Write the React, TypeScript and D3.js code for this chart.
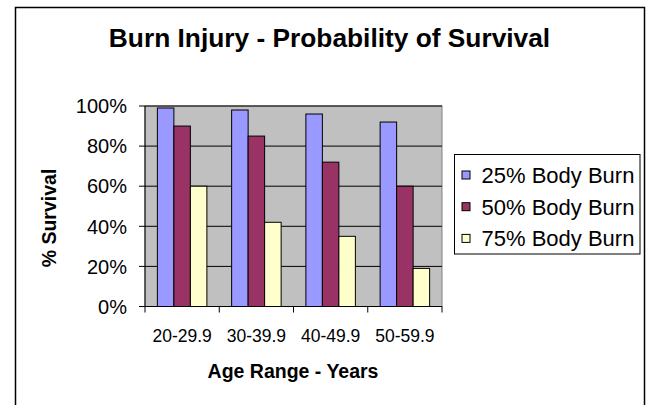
import React from "react";
import * as d3 from "d3";

const categories = ["20-29.9", "30-39.9", "40-49.9", "50-59.9"];
const seriesNames = ["25% Body Burn", "50% Body Burn", "75% Body Burn"];
const burn25 = [99, 98, 96, 92];
const burn50 = [90, 85, 72, 60];
const burn75 = [60, 42, 35, 19];
const seriesColors = ["#9999FF", "#993366", "#FFFFCC"];
const yTicks = [0, 20, 40, 60, 80, 100];
const title = "Burn Injury - Probability of Survival";
const xTitle = "Age Range - Years";
const yTitle = "% Survival";

const W = 646;
const H = 405;
const plot = { left: 145, right: 442, top: 106, bottom: 306.5 };
const FONT = "'Liberation Sans', Arial, sans-serif";

export default function App() {
  const series = [burn25, burn50, burn75];
  const x0 = d3.scaleBand<string>().domain(categories).range([plot.left, plot.right]).padding(0);
  const x1 = d3
    .scaleBand<number>()
    .domain([0, 1, 2])
    .range([0, x0.bandwidth()])
    .paddingInner(0)
    .paddingOuter(0.75);
  const y = d3.scaleLinear().domain([0, 100]).range([plot.bottom, plot.top]);
  const boundaries = categories.map((c) => x0(c) as number).concat([plot.right]);

  return (
    <svg
      width={W}
      height={H}
      style={{ position: "absolute", left: 0, top: 0, background: "#fff" }}
      fontFamily={FONT}
    >
      <rect x={0} y={0} width={W} height={H} fill="#fff" />
      <rect x={15.5} y={7.5} width={629} height={420} fill="#fff" stroke="#000" strokeWidth={1.5} />
      <text x={329.5} y={47} textAnchor="middle" fontSize={26.3} fontWeight="bold" fill="#000">
        {title}
      </text>
      {/* plot area */}
      <rect
        x={plot.left}
        y={plot.top}
        width={plot.right - plot.left}
        height={plot.bottom - plot.top}
        fill="#C0C0C0"
        stroke="#808080"
        strokeWidth={1}
      />
      {yTicks
        .filter((t) => t > 0)
        .map((t) => (
          <line key={"g" + t} x1={plot.left} x2={plot.right} y1={y(t)} y2={y(t)} stroke="#000" strokeWidth={1} />
        ))}
      {series.map((vals, si) =>
        categories.map((c, ci) => {
          const bx = (x0(c) as number) + (x1(si) as number);
          return (
            <rect
              key={si + "-" + ci}
              x={bx}
              y={y(vals[ci])}
              width={x1.bandwidth()}
              height={y(0) - y(vals[ci])}
              fill={seriesColors[si]}
              stroke="#000"
              strokeWidth={1}
            />
          );
        })
      )}
      {/* axes */}
      <line x1={plot.left} x2={plot.left} y1={plot.top} y2={plot.bottom} stroke="#000" strokeWidth={1} />
      <line x1={plot.left} x2={plot.right} y1={plot.bottom} y2={plot.bottom} stroke="#000" strokeWidth={1} />
      {yTicks.map((t) => (
        <g key={"yt" + t}>
          <line x1={plot.left - 6} x2={plot.left} y1={y(t)} y2={y(t)} stroke="#000" strokeWidth={1} />
          <text x={127} y={y(t)} dy="0.36em" textAnchor="end" fontSize={20} fill="#000">
            {t + "%"}
          </text>
        </g>
      ))}
      {boundaries.map((bx, i) => (
        <line key={"xt" + i} x1={bx} x2={bx} y1={plot.bottom} y2={plot.bottom + 6} stroke="#000" strokeWidth={1} />
      ))}
      {categories.map((c) => (
        <text
          key={"xl" + c}
          x={(x0(c) as number) + x0.bandwidth() / 2}
          y={342}
          textAnchor="middle"
          fontSize={17.5}
          fill="#000"
        >
          {c}
        </text>
      ))}
      <text x={293} y={378} textAnchor="middle" fontSize={19.5} fontWeight="bold" fill="#000">
        {xTitle}
      </text>
      <text
        transform={`translate(56,218) rotate(-90)`}
        textAnchor="middle"
        fontSize={19.5}
        fontWeight="bold"
        fill="#000"
      >
        {yTitle}
      </text>
      {/* legend */}
      <rect x={454.5} y={154.5} width={185.5} height={99.5} fill="#fff" stroke="#000" strokeWidth={1} />
      {seriesNames.map((n, i) => {
        const cy = 175 + i * 31.7;
        return (
          <g key={"lg" + i}>
            <rect x={462} y={cy - 4} width={8} height={8} fill={seriesColors[i]} stroke="#000" strokeWidth={1} />
            <text x={481.5} y={cy} dy="0.36em" fontSize={22} fill="#000">
              {n}
            </text>
          </g>
        );
      })}
    </svg>
  );
}
